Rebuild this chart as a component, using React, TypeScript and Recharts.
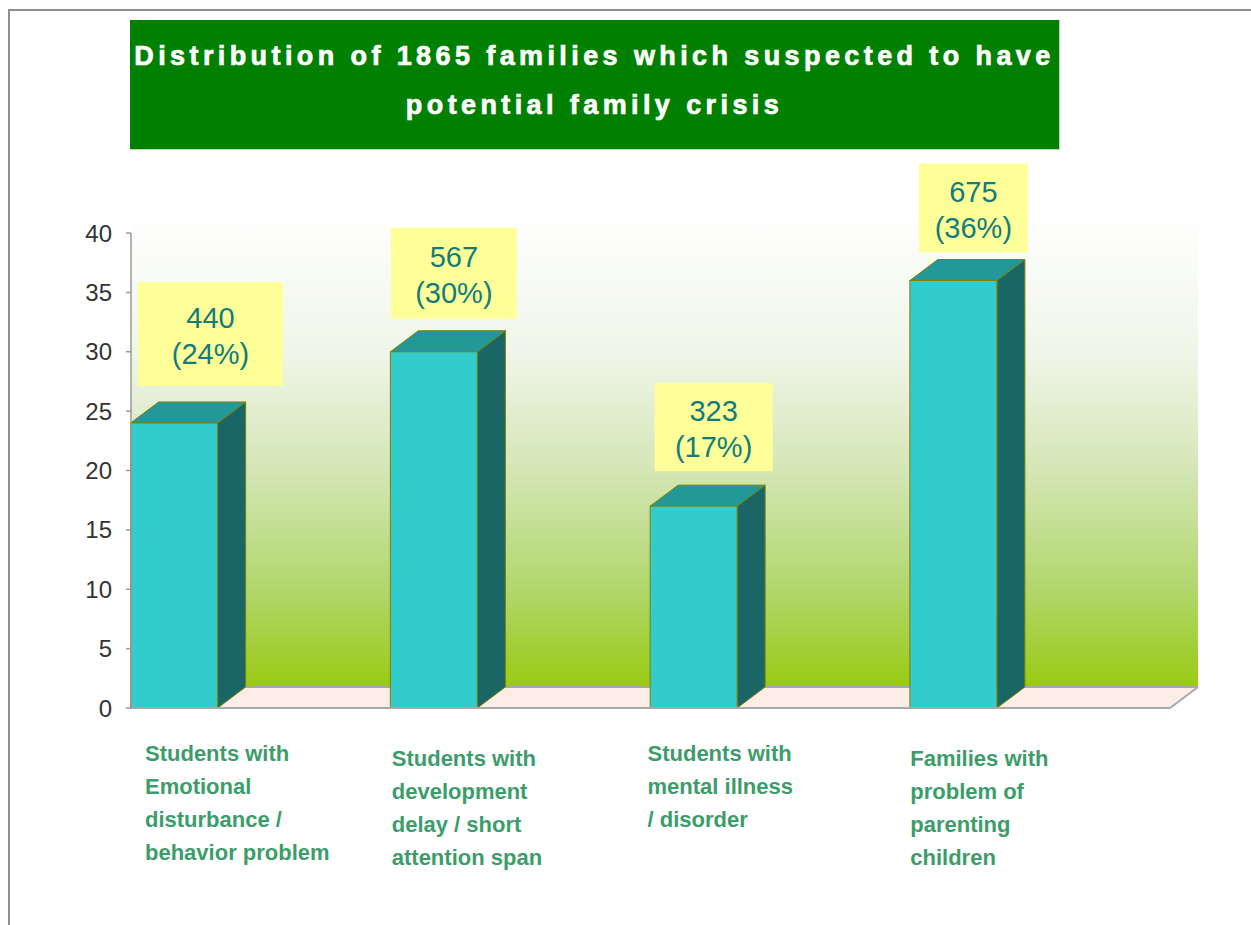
import React from "react";
import { BarChart, Bar, XAxis, YAxis, ReferenceArea, LabelList } from "recharts";

// ---------- data ----------
const categories = [
  "Students with Emotional disturbance / behavior problem",
  "Students with development delay / short attention span",
  "Students with mental illness / disorder",
  "Families with problem of parenting children",
];
const categoryLines = [
  ["Students with", "Emotional", "disturbance /", "behavior problem"],
  ["Students with", "development", "delay / short", "attention span"],
  ["Students with", "mental illness", "/ disorder"],
  ["Families with", "problem of", "parenting", "children"],
];
const familyCounts = [440, 567, 323, 675];
const percentages = [24, 30, 17, 36];
const yTicks = [0, 5, 10, 15, 20, 25, 30, 35, 40];
const titleText = "Distribution of 1865 families which suspected to have potential family crisis";

// ---------- styles ----------
const W = 1251;
const H = 925;
const PLOT_LEFT = 131;
const PLOT_RIGHT = 1170;
const PLOT_TOP = 233;
const PLOT_BOTTOM = 708;
const PLOT_W = PLOT_RIGHT - PLOT_LEFT;
const DX = 28;
const DY = 21;
const BAR_SIZE = 87;
const labelBoxW = [145, 126, 118, 109];
const labelBoxH = [104, 91, 88, 89];
const labelGap = [37, 33, 35, 28];
const tickDx = [14, 1, -3, 0];
const tickDy = [0, 5, 0, 5];
const FONT = "'Liberation Sans', Arial, Helvetica, sans-serif";

const data = categories.map((c, i) => ({
  name: c,
  value: percentages[i],
  count: familyCounts[i],
}));

const bandOf = () => PLOT_W / categories.length;

const frontX = (x: number, width: number) => x - (bandOf() - width) / 2;

const Bar3D = (p: any) => {
  const { x, y, width, height } = p;
  if (x == null || y == null) return null;
  const fx = frontX(x, width);
  const b = y + height;
  const stroke = "#7f7f00";
  return (
    <g>
      <polygon
        points={`${fx + width},${y} ${fx + width + DX},${y - DY} ${fx + width + DX},${b - DY} ${fx + width},${b}`}
        fill="#1a6565"
        stroke={stroke}
        strokeWidth={1}
      />
      <polygon
        points={`${fx},${y} ${fx + DX},${y - DY} ${fx + width + DX},${y - DY} ${fx + width},${y}`}
        fill="#229898"
        stroke={stroke}
        strokeWidth={1}
      />
      <rect x={fx} y={y} width={width} height={height} fill="#33cccc" stroke={stroke} strokeWidth={1} />
    </g>
  );
};

const WallFloor = (p: any) => {
  const { x, y, width, height } = p;
  const b = y + height;
  return (
    <g>
      <defs>
        <linearGradient id="wallGrad" x1="0" y1="0" x2="0" y2="1">
          <stop offset="0" stopColor="#ffffff" />
          <stop offset="0.3" stopColor="#f0f5e8" />
          <stop offset="0.55" stopColor="#d3e6b4" />
          <stop offset="0.8" stopColor="#b0d66a" />
          <stop offset="1" stopColor="#98cb12" />
        </linearGradient>
      </defs>
      <rect x={x} y={y - DY} width={width + DX} height={height} fill="url(#wallGrad)" />
      <polygon
        points={`${x},${b} ${x + width},${b} ${x + width + DX},${b - DY} ${x + DX},${b - DY}`}
        fill="#fcede7"
      />
      <line x1={x + DX} y1={b - DY} x2={x + width + DX} y2={b - DY} stroke="#a8a8a8" strokeWidth={2} />
      <line x1={x + width} y1={b} x2={x + width + DX} y2={b - DY} stroke="#a8a8a8" strokeWidth={2} />
    </g>
  );
};

const ValueLabel = (p: any) => {
  const { x, y, width, index } = p;
  if (x == null || y == null || index == null) return null;
  const fx = frontX(x, width);
  const bw = labelBoxW[index];
  const bh = labelBoxH[index];
  let cx = fx + width / 2 + 20;
  let left = cx - bw / 2;
  if (left < PLOT_LEFT + 7) left = PLOT_LEFT + 7;
  cx = left + bw / 2;
  const bottom = y - labelGap[index];
  const top = bottom - bh;
  const mid = top + bh / 2;
  const txt = {
    textAnchor: "middle" as const,
    dominantBaseline: "central" as const,
    fontFamily: FONT,
    fontSize: 29,
    fill: "#127c7c",
  };
  return (
    <g>
      <rect x={left} y={top} width={bw} height={bh} fill="#ffff99" />
      <text x={cx} y={mid - 16} {...txt}>
        {familyCounts[index]}
      </text>
      <text x={cx} y={mid + 20} {...txt}>
        {`(${percentages[index]}%)`}
      </text>
    </g>
  );
};

const CategoryTick = (p: any) => {
  const { x, y, payload } = p;
  const i = payload?.index ?? categories.indexOf(payload?.value);
  const lines = categoryLines[i] || [];
  const left = x - bandOf() / 2 + tickDx[i];
  return (
    <g>
      {lines.map((ln, k) => (
        <text
          key={k}
          x={left}
          y={y + 53 + tickDy[i] + k * 33}
          textAnchor="start"
          fontFamily={FONT}
          fontWeight="bold"
          fontSize={22}
          fill="#3c9c6a"
        >
          {ln}
        </text>
      ))}
    </g>
  );
};

export default function App() {
  const titleParts = [
    titleText.slice(0, titleText.indexOf(" potential")),
    titleText.slice(titleText.indexOf(" potential") + 1),
  ];
  return (
    <div
      style={{
        position: "absolute",
        left: 0,
        top: 0,
        width: W,
        height: H,
        overflow: "hidden",
        background: "#ffffff",
      }}
    >
      <div
        style={{
          position: "absolute",
          left: 8,
          top: 9,
          width: 1400,
          height: 1100,
          border: "2px solid #8e8e8e",
        }}
      />
      <div
        style={{
          position: "absolute",
          left: 130,
          top: 20,
          width: 930,
          height: 130,
          boxSizing: "border-box",
          paddingTop: 12,
          background: "#008000",
          borderBottom: "1px solid #b8dcb0",
          borderRight: "1px solid #b8dcb0",
          color: "#ffffff",
          fontFamily: FONT,
          fontWeight: "bold",
          fontSize: 27,
          lineHeight: "49px",
          letterSpacing: "4.4px",
          WebkitTextStroke: "0.7px #ffffff",
          textAlign: "center",
          whiteSpace: "nowrap",
        }}
      >
        <div>{titleParts[0]}</div>
        <div>{titleParts[1]}</div>
      </div>
      <div style={{ position: "absolute", left: 0, top: 0 }}>
        <BarChart
          width={W}
          height={H}
          data={data}
          margin={{ top: PLOT_TOP, right: W - PLOT_RIGHT, left: PLOT_LEFT - 60, bottom: H - PLOT_BOTTOM - 180 }}
          barCategoryGap={0}
        >
          <ReferenceArea y1={0} y2={40} shape={WallFloor} zIndex={-60} ifOverflow="visible" />
          <XAxis
            dataKey="name"
            height={180}
            interval={0}
            tickLine={false}
            tickSize={0}
            tickMargin={0}
            axisLine={{ stroke: "#a8a8a8", strokeWidth: 2 }}
            tick={<CategoryTick />}
          />
          <YAxis
            width={60}
            domain={[0, 40]}
            ticks={yTicks}
            interval={0}
            tickSize={5}
            tickMargin={14}
            axisLine={{ stroke: "#9a9a9a", strokeWidth: 1.5 }}
            tickLine={{ stroke: "#9a9a9a", strokeWidth: 1.5 }}
            tick={{ fontSize: 24, fill: "#333333", fontFamily: FONT }}
          />
          <Bar dataKey="value" barSize={BAR_SIZE} shape={Bar3D} isAnimationActive={false}>
            <LabelList dataKey="value" content={<ValueLabel />} />
          </Bar>
        </BarChart>
      </div>
    </div>
  );
}
